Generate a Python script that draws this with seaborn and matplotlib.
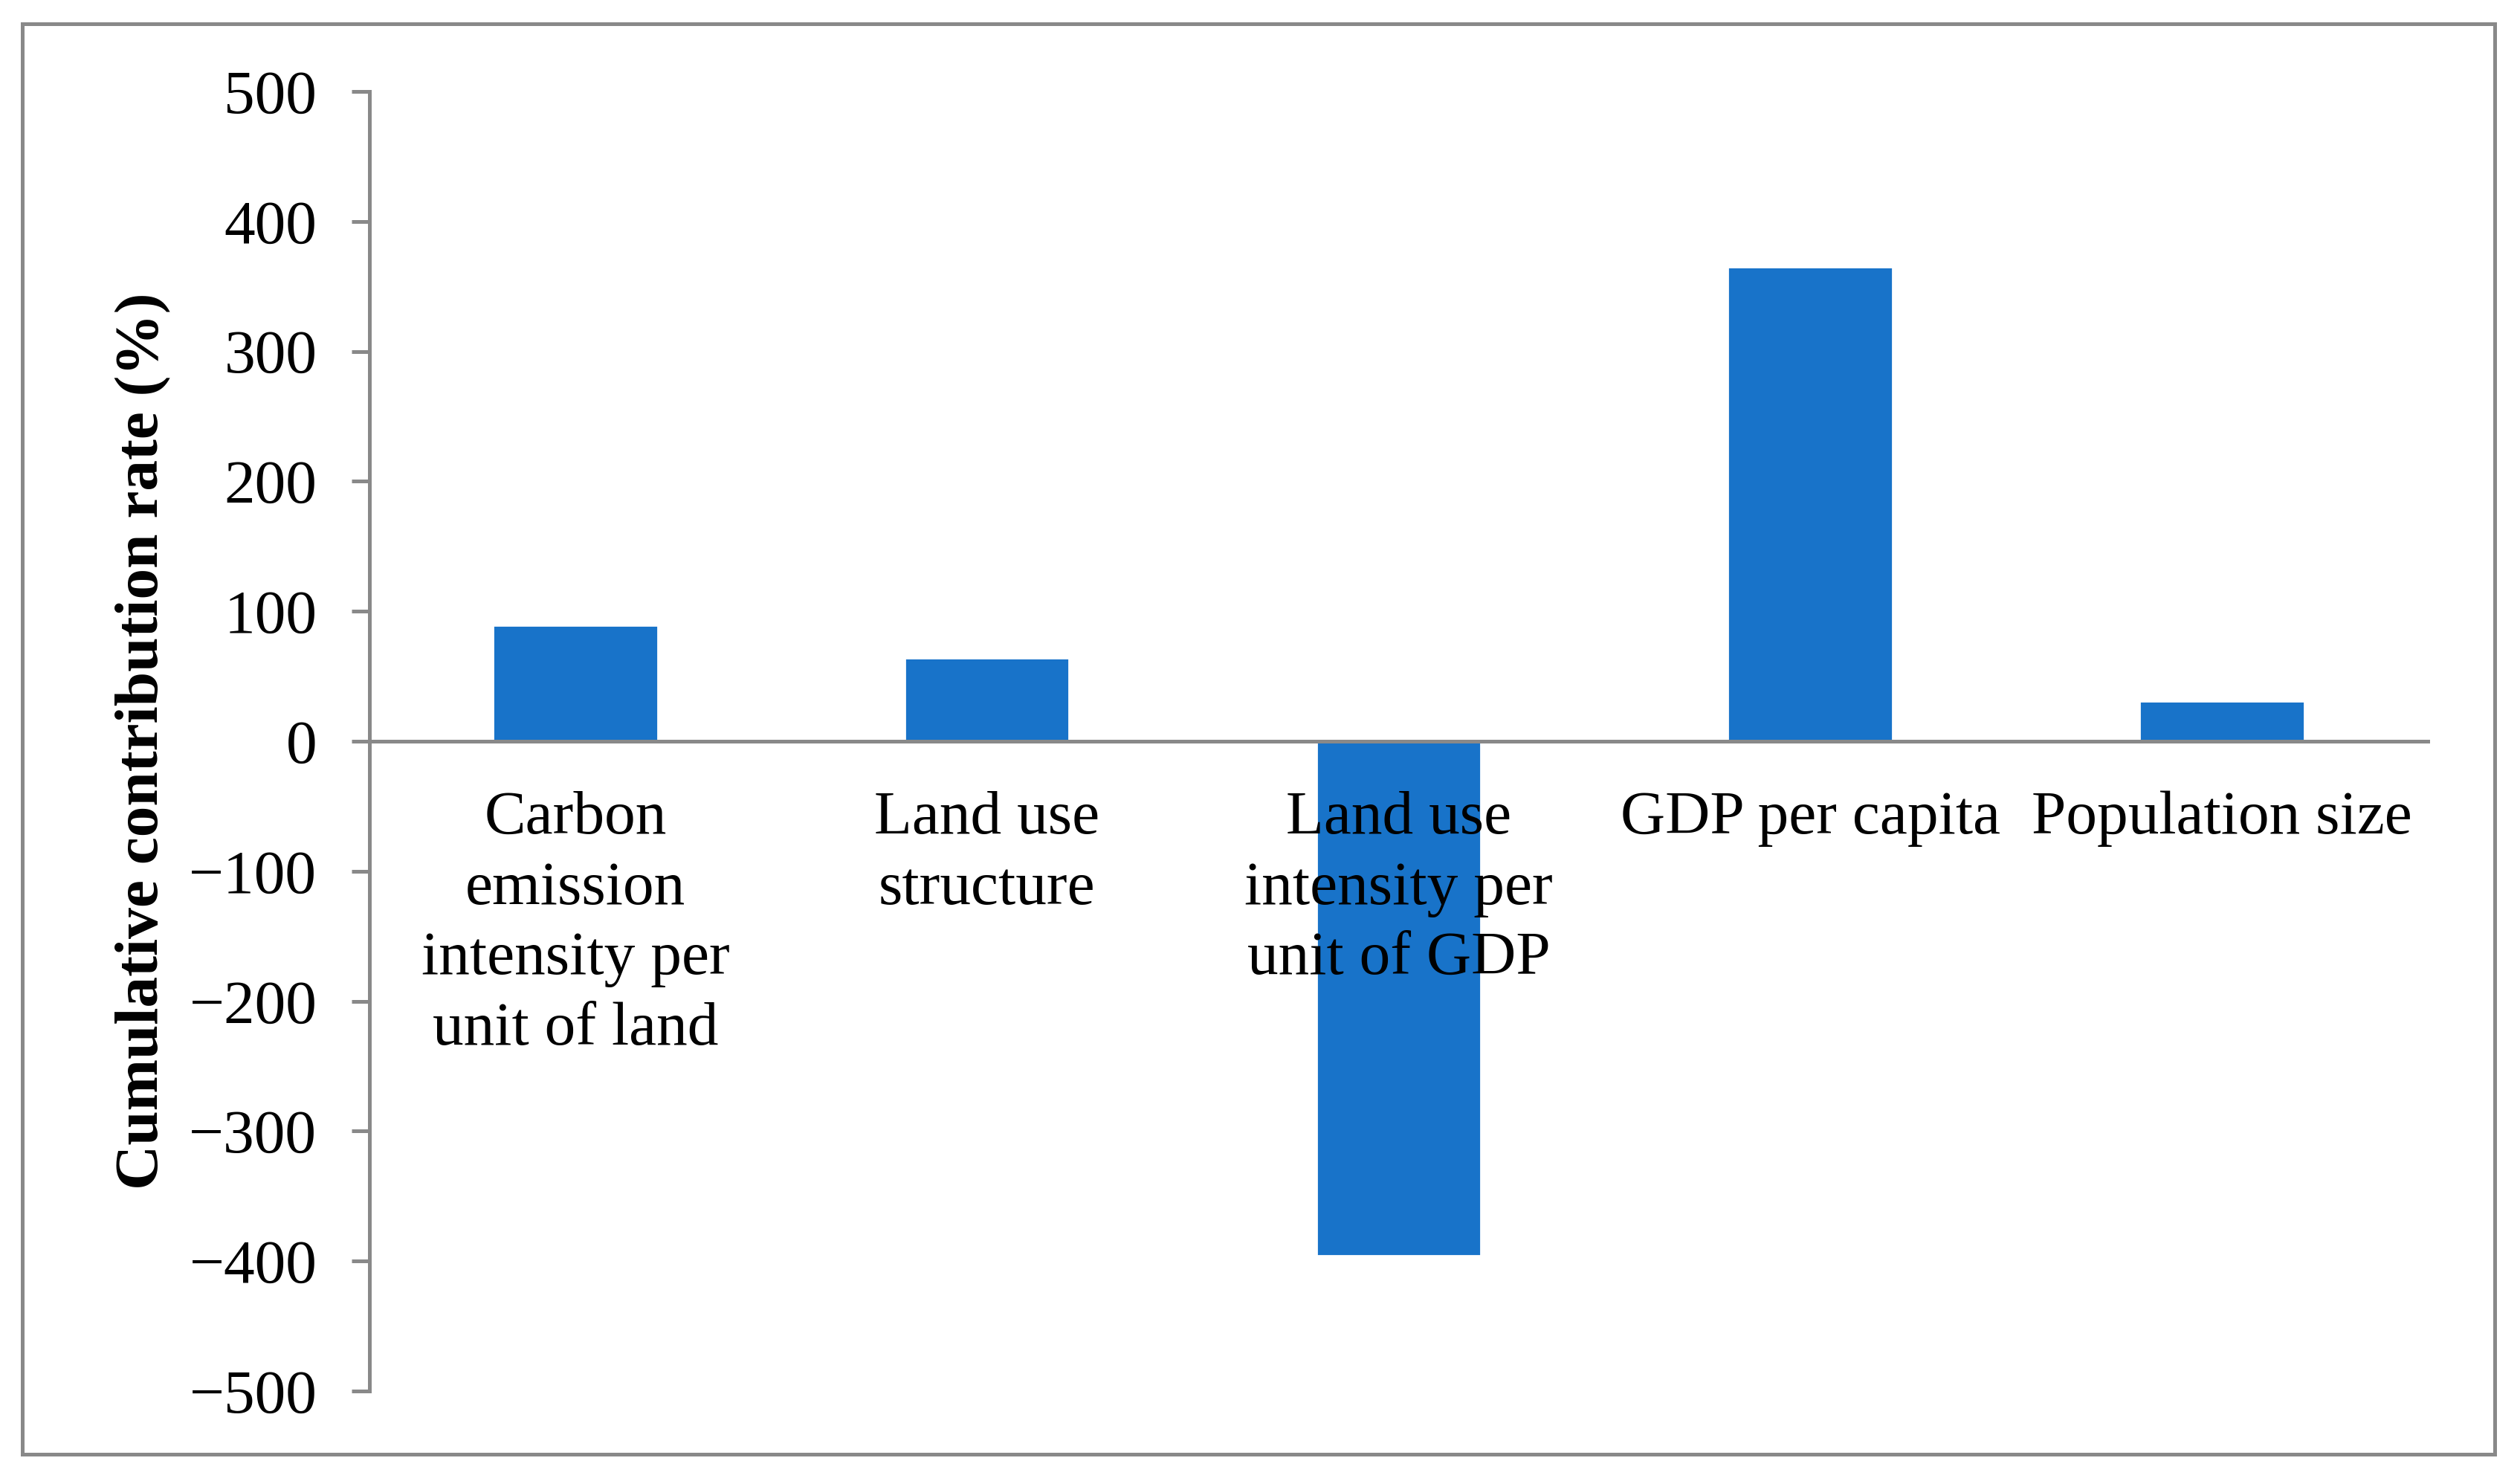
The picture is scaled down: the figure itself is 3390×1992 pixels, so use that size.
import matplotlib
matplotlib.use("Agg")
import matplotlib.pyplot as plt
import seaborn as sns
import pandas as pd
from matplotlib.patches import Rectangle

# Données
categories = [
    "Carbon\nemission\nintensity per\nunit of land",
    "Land use\nstructure",
    "Land use\nintensity per\nunit of GDP",
    "GDP per capita",
    "Population size",
]
contribution = [89, 64, -396, 365, 31]
y_ticks = [500, 400, 300, 200, 100, 0, -100, -200, -300, -400, -500]

sns.set_theme(style="white")
plt.rcParams["font.family"] = ["Liberation Serif", "DejaVu Serif"]
plt.rcParams["axes.unicode_minus"] = True
plt.rcParams["text.color"] = "black"
plt.rcParams["xtick.labelcolor"] = "black"
plt.rcParams["ytick.labelcolor"] = "black"
plt.rcParams["axes.labelcolor"] = "black"

grey = "#898989"
bar_color = "#1873C9"

df = pd.DataFrame({"factor": categories, "rate": contribution})

fig = plt.figure(figsize=(3391 / 200, 1992 / 200), dpi=200)
ax = fig.add_axes([0.1466, 0.0607, 0.8165, 0.8776])

sns.barplot(data=df, x="factor", y="rate", color=bar_color, saturation=1,
            width=0.4, ax=ax)

ax.set_ylim(-500, 500)
ax.set_xlim(-0.5, 4.5)
ax.set_yticks(y_ticks)
# les étiquettes passent devant la barre négative
ax.set_axisbelow(False)

# Axe des x placé sur la ligne zéro
for side in ["top", "right"]:
    ax.spines[side].set_visible(False)
ax.spines["bottom"].set_position(("data", 0))
ax.spines["bottom"].set_color(grey)
ax.spines["bottom"].set_linewidth(1.8)
ax.spines["left"].set_color(grey)
ax.spines["left"].set_linewidth(1.8)

ax.tick_params(axis="x", length=0, pad=24, labelsize=30, labelcolor="black")
ax.tick_params(axis="y", direction="out", length=8.5, width=1.8, color=grey,
               pad=17, labelsize=30, left=True, labelcolor="black")
for lab in ax.get_xticklabels():
    lab.set_linespacing(1.33)
    lab.set_verticalalignment("top")

ax.set_xlabel("")
ax.set_ylabel("Cumulative contribution rate (%)", fontsize=30, fontweight="bold",
              color="black")
ax.yaxis.set_label_coords(-0.0965, 0.5)
ax.grid(False)

# Cadre extérieur du graphique
fig.patches.append(Rectangle((0.0089, 0.0181), 0.9809, 0.9658, transform=fig.transFigure,
                             fill=False, edgecolor=grey, linewidth=1.8))

fig.savefig("out.png", dpi=200)
